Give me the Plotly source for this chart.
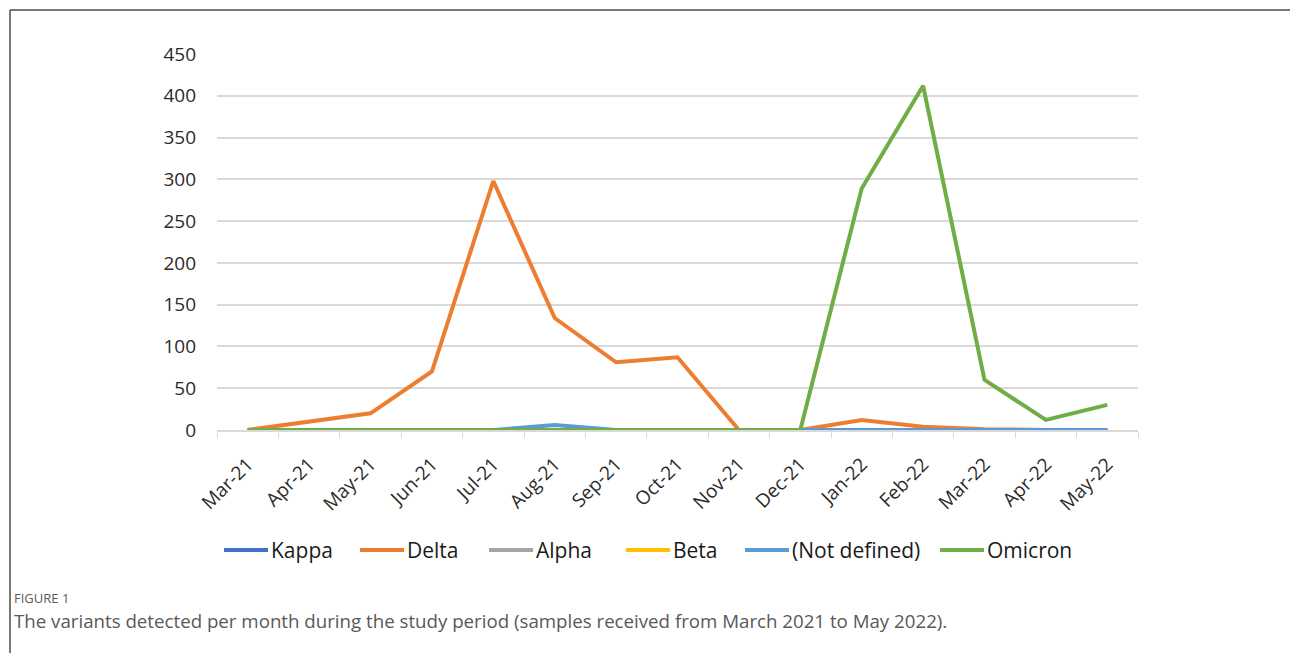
import plotly.graph_objects as go

# Monthly sample counts per variant
months = ["Mar-21", "Apr-21", "May-21", "Jun-21", "Jul-21", "Aug-21", "Sep-21", "Oct-21",
          "Nov-21", "Dec-21", "Jan-22", "Feb-22", "Mar-22", "Apr-22", "May-22"]
kappa = [0, 0, 0, 0, 0, 0, 0, 0, 0, 0, 0, 0, 0, 0, 0]
delta = [0, 10, 20, 70, 298, 134, 81, 87, 0, 0, 12, 4, 1, 0, 0]
alpha = [0, 0, 0, 0, 0, 0, 0, 0, 0, 0, 0, 0, 0, 0, 0]
beta = [0, 0, 0, 0, 0, 0, 0, 0, 0, 0, 0, 0, 0, 0, 0]
not_defined = [0, 0, 0, 0, 0, 6, 0, 0, 0, 0, 0, 0, 0, 0, 0]
omicron = [0, 0, 0, 0, 0, 0, 0, 0, 0, 0, 289, 412, 60, 12, 30]

series_names = ["Kappa", "Delta", "Alpha", "Beta", "(Not defined)", "Omicron"]
series_values = [kappa, delta, alpha, beta, not_defined, omicron]
series_colors = ["#4472C4", "#ED7D31", "#A5A5A5", "#FFC000", "#5B9BD5", "#70AD47"]

W, H = 1290, 653
L, R, T, B = 217, 152, 54, 223
pw, ph = W - L - R, H - T - B


def px_x(px):
    return (px - L) / pw


def px_y(py):
    return (H - B - py) / ph


fig = go.Figure()
for name, vals, color in zip(series_names, series_values, series_colors):
    fig.add_trace(go.Scatter(x=months, y=vals, name=name, mode="lines",
                             line=dict(color=color, width=4)))

font_family = "Open Sans, Noto Sans, sans-serif"
tick_font = dict(family=font_family, size=19, color="#2b2b2b")

# Legend row drawn below the chart: a short coloured line followed by its label
legend_line_starts = [224, 360, 489, 626, 745, 940]
legend_line_len = 44
legend_y = 550
shapes = []
annotations = []
for name, color, x0 in zip(series_names, series_colors, legend_line_starts):
    shapes.append(dict(type="line", xref="paper", yref="paper",
                       x0=px_x(x0), x1=px_x(x0 + legend_line_len),
                       y0=px_y(legend_y), y1=px_y(legend_y),
                       line=dict(color=color, width=4)))
    annotations.append(dict(text=name, xref="paper", yref="paper",
                            x=px_x(x0 + legend_line_len + 1), y=px_y(legend_y),
                            xanchor="left", yanchor="middle", showarrow=False,
                            font=dict(family=font_family, size=21, color="#1a1a1a")))

# Frame around the figure (top and left edges)
shapes += [
    dict(type="line", xref="paper", yref="paper",
         x0=px_x(10), x1=px_x(W + 5), y0=px_y(10), y1=px_y(10),
         line=dict(color="#4a4a4a", width=1.5)),
    dict(type="line", xref="paper", yref="paper",
         x0=px_x(10), x1=px_x(10), y0=px_y(10), y1=px_y(H + 5),
         line=dict(color="#4a4a4a", width=1.5)),
]

annotations += [
    dict(text="FIGURE 1", xref="paper", yref="paper", x=px_x(12), y=px_y(598),
         xanchor="left", yanchor="middle", showarrow=False,
         font=dict(family=font_family, size=13, color="#595959")),
    dict(text="The variants detected per month during the study period (samples received from March 2021 to May 2022).",
         xref="paper", yref="paper", x=px_x(12), y=px_y(620),
         xanchor="left", yanchor="middle", showarrow=False,
         font=dict(family=font_family, size=18.7, color="#595959")),
]

fig.update_layout(
    width=W, height=H,
    margin=dict(l=L, r=R, t=T, b=B),
    paper_bgcolor="white", plot_bgcolor="white",
    showlegend=False,
    xaxis=dict(type="category", tickangle=-45, tickfont=tick_font,
               showgrid=False, showline=True, linecolor="#d9d9d9", linewidth=1.5,
               ticks="outside", tickson="boundaries", ticklen=6, tickcolor="#d9d9d9",
               ticklabelstandoff=14,
               range=[-0.5, len(months) - 0.5]),
    yaxis=dict(range=[0, 450], dtick=50, tickfont=tick_font,
               showgrid=True, gridcolor="#d9d9d9", gridwidth=1.5,
               zeroline=False, showline=False, ticks="", ticklabelstandoff=20),
    shapes=shapes,
    annotations=annotations,
)

fig.write_html("out.html")
